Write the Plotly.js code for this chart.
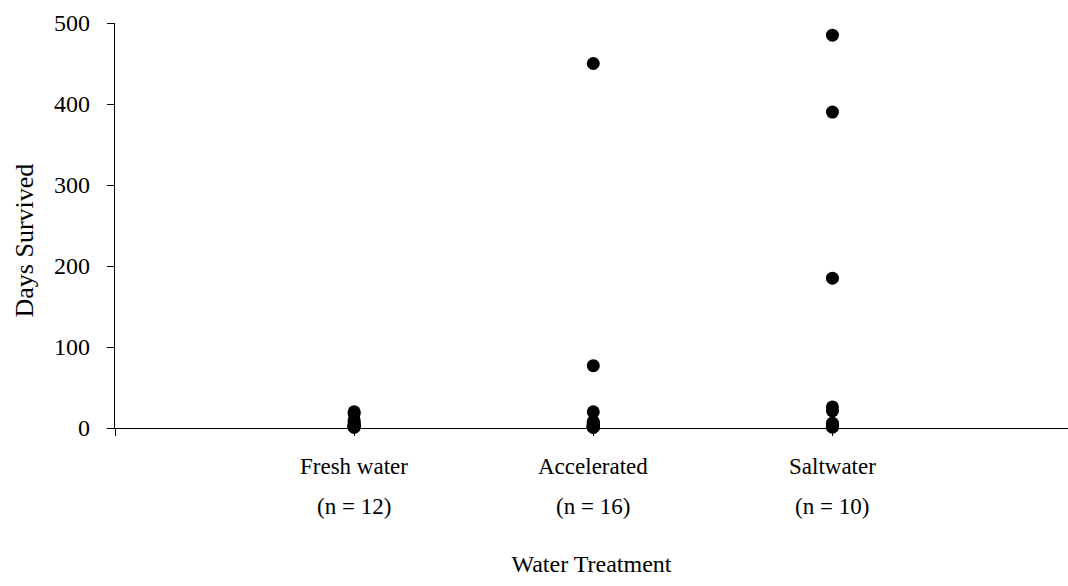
<!DOCTYPE html>
<html>
<head>
<meta charset="utf-8">
<script src="https://cdn.plot.ly/plotly-3.0.1.min.js"></script>
<style>html,body{margin:0;padding:0;background:#fff;}#chart{width:1068px;height:586px;}</style>
</head>
<body>
<div id="chart"></div>
<script>
const categories = ["Fresh water", "Accelerated", "Saltwater"];
const sampleSizes = ["(n = 12)", "(n = 16)", "(n = 10)"];
const freshWater = [20, 18, 10, 7, 5, 4, 3, 3, 2, 2, 1, 1];
const accelerated = [450, 77, 20, 8, 6, 5, 4, 4, 3, 3, 2, 2, 2, 1, 1, 1];
const saltwater = [485, 390, 185, 26, 21, 6, 4, 3, 2, 1];
const yTicks = [0, 100, 200, 300, 400, 500];

const groups = [freshWater, accelerated, saltwater];
const xs = [], ys = [];
groups.forEach((g, i) => g.forEach(v => { xs.push(i + 1); ys.push(v); }));

const fam = "Liberation Serif, Times New Roman, serif";
const catFont = {family: fam, color: "#000", size: 23};
const tickFont = {family: fam, color: "#000", size: 24};
const xTitleFont = {family: fam, color: "#000", size: 24};
const yTitleFont = {family: fam, color: "#000", size: 26};

const annotations = [];
categories.forEach((c, i) => {
  annotations.push({x: i + 1, xref: "x", y: 0, yref: "paper", text: c, showarrow: false,
    yanchor: "middle", xanchor: "center", yshift: -38, font: catFont});
  annotations.push({x: i + 1, xref: "x", y: 0, yref: "paper", text: sampleSizes[i], showarrow: false,
    yanchor: "middle", xanchor: "center", yshift: -78, font: catFont});
});
annotations.push({x: 0, xref: "paper", y: 0.5, yref: "paper", text: "Days Survived", showarrow: false,
  textangle: -90, xanchor: "center", yanchor: "middle", xshift: -91, yshift: -15, font: yTitleFont});

const data = [{
  type: "scatter", mode: "markers", x: xs, y: ys,
  marker: {color: "#000", size: 13},
  hoverinfo: "x+y", cliponaxis: false
}];

const layout = {
  width: 1068, height: 586,
  margin: {l: 115, r: 0, t: 23, b: 158},
  paper_bgcolor: "#fff", plot_bgcolor: "#fff",
  showlegend: false,
  font: {family: fam, color: "#000", size: 22},
  xaxis: {
    range: [0, 3.985], tickvals: [0, 1, 2, 3], showticklabels: false,
    ticks: "outside", ticklen: 7, tickcolor: "#000", tickwidth: 1,
    showline: true, linecolor: "#000", linewidth: 1.3,
    showgrid: false, zeroline: false, fixedrange: true,
    title: {text: "Water Treatment", font: xTitleFont, standoff: 120}
  },
  yaxis: {
    range: [0, 500], tickvals: yTicks, ticktext: yTicks.map(String),
    ticks: "outside", ticklen: 7, tickcolor: "#000", tickwidth: 1,
    ticklabelstandoff: 12,
    showline: true, linecolor: "#000", linewidth: 1.3,
    showgrid: false, zeroline: false, fixedrange: true,
    tickfont: tickFont
  },
  annotations: annotations
};

Plotly.newPlot("chart", data, layout, {displayModeBar: false, staticPlot: true});
</script>
</body>
</html>
